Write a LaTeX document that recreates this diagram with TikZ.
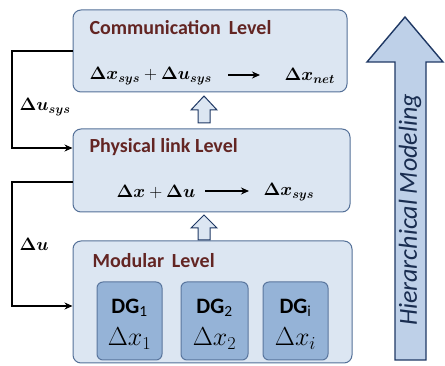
\RequirePackage{fix-cm}
\documentclass[tikz,border=0pt]{standalone}
\usepackage{amsmath,amssymb}
\usepackage{fontspec}
\setmainfont{Carlito}
\usepackage{tikz}
\usetikzlibrary{positioning}
\usetikzlibrary{calc}
\usetikzlibrary{arrows.meta}

\begin{document}
\begin{tikzpicture}[x=1pt,y=-1pt,
	levelbox/.style={draw=bordblue, fill=lightblue, line width=1pt, rounded corners=8pt, inner sep=0pt},
	dgbox/.style={draw=dgborder, fill=dgblue, line width=1pt, rounded corners=6pt, inner sep=0pt, minimum height=78pt},
	leveltitle/.style={anchor=west, text=titlered, font=\fontsize{20}{22}\selectfont\bfseries},
	eq/.style={font=\fontsize{18}{21}\selectfont},
	feedback/.style={line width=1.6pt, -{Stealth[length=8pt,width=7pt]}},
	hollow/.style={draw=navy, fill=lightblue, line width=1pt, line join=miter}]
	\definecolor{lightblue}{RGB}{220,230,242}
	\definecolor{bordblue}{RGB}{84,112,152}
	\definecolor{dgblue}{RGB}{149,179,215}
	\definecolor{dgborder}{RGB}{90,118,158}
	\definecolor{titlered}{RGB}{99,37,35}
	\definecolor{navy}{RGB}{31,56,100}
	\definecolor{bigblue}{RGB}{190,208,232}
	\useasboundingbox (0,0) rectangle (445,366);

	\node[levelbox, minimum width=274pt, minimum height=82pt] (comm) at (210,51) {};
	\node[levelbox, minimum width=277pt, minimum height=83pt] (phys) at (211.5,170.5) {};
	\node[levelbox, minimum width=279pt, minimum height=122pt] (mod) at (212.5,302) {};

	\node[leveltitle] (commtitle) at (86,28) {Communication\, Level};
	\node[leveltitle] (physititle) at (86,147) {Physical link Level};
	\node[leveltitle] (modtitle) at (89,261) {Modular\, Level};

	\node[eq, anchor=west] (commin) at (86,76) {$\boldsymbol{\Delta x_{sys}} + \boldsymbol{\Delta u_{sys}}$};
	\node[eq, anchor=west] (commout) at (281,76) {$\boldsymbol{\Delta x_{net}}$};
	\draw[line width=1.4pt, -{Stealth[length=8pt,width=7pt]}] (228,75) -- (260,75);

	\node[eq, anchor=west] (physin) at (113,192) {$\boldsymbol{\Delta x} + \boldsymbol{\Delta u}$};
	\node[eq, anchor=west] (physout) at (260,192) {$\boldsymbol{\Delta x_{sys}}$};
	\draw[line width=1.4pt, -{Stealth[length=8pt,width=7pt]}] (205,191) -- (249,191);

	\node[dgbox, minimum width=65pt] (dga) at (129.5,321) {};
	\node[dgbox, minimum width=67pt] (dgb) at (214.5,321) {};
	\node[dgbox, minimum width=65pt] (dgc) at (295.5,321) {};
	\foreach \n/\s/\m in {dga/1/1, dgb/2/2, dgc/i/i}{
		\node[font=\fontsize{22}{24}\selectfont\bfseries] at ($(\n.north)+(0,26)$) {DG\textsubscript{\normalfont\s}};
		\node[font=\fontsize{26}{28}\selectfont] at ($(\n.north)+(0,57)$) {$\Delta x_{\m}$};
	}

	% hollow arrows between levels
	\draw[hollow] (204,96) -- (217,110) -- (210,110) -- (210,123) -- (198,123) -- (198,110) -- (191,110) -- cycle;
	\draw[hollow] (204,215) -- (217,228) -- (210,228) -- (210,240) -- (198,240) -- (198,228) -- (191,228) -- cycle;

	% feedback paths
	\coordinate (fba) at (12,148);
	\coordinate (fbb) at (12,182);
	\coordinate (fbc) at (12,306);
	\draw[feedback] (comm.west) -- (comm.west -| fba) -- (fba) -- (fba -| phys.west);
	\draw[feedback] (fbb -| phys.west) -- (fbb) -- (fbc) -- (fbc -| mod.west);
	\node[eq, anchor=west] (usys) at (16,107) {$\boldsymbol{\Delta u_{sys}}$};
	\node[eq, anchor=west] (u) at (16,244) {$\boldsymbol{\Delta u}$};

	% hierarchy arrow
	\draw[draw=navy, fill=bigblue, line width=1.4pt, line join=miter] (405,17) -- (443,62) -- (426,62) -- (426,360) -- (395,360) -- (395,62) -- (367,62) -- cycle;
	\node[rotate=90, font=\fontsize{26}{28}\selectfont\itshape, text=navy!80!black] (hier) at (410,210) {Hierarchical Modeling};
\end{tikzpicture}
\end{document}
